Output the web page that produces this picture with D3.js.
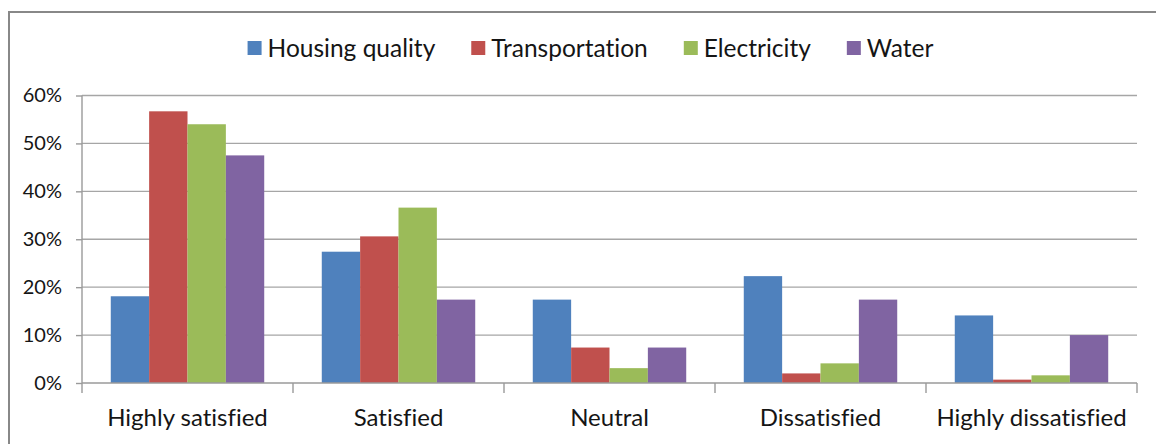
<!DOCTYPE html>
<html>
<head>
<meta charset="utf-8">
<script src="https://cdn.jsdelivr.net/npm/d3@7"></script>
<style>
  html, body { margin: 0; padding: 0; background: #fff; }
  svg { display: block; }
  text { font-family: Lato, "Open Sans", sans-serif; fill: #151515; font-variant-ligatures: none; }
</style>
</head>
<body>
<svg id="chart" width="1156" height="444"></svg>
<script>
// Satisfaction levels (x categories)
const categories = ["Highly satisfied", "Satisfied", "Neutral", "Dissatisfied", "Highly dissatisfied"];

// Series names, in legend order
const seriesNames = ["Housing quality", "Transportation", "Electricity", "Water"];

// Share of respondents (%) per category, one array per series
const housingQuality = [18.1, 27.4, 17.4, 22.3, 14.1];
const transportation = [56.7, 30.6, 7.4, 2.0, 0.7];
const electricity    = [54.0, 36.6, 3.1, 4.1, 1.6];
const water          = [47.5, 17.4, 7.4, 17.4, 10.0];

// Y axis tick values (%)
const yTicks = [0, 10, 20, 30, 40, 50, 60];

const seriesValues = [housingQuality, transportation, electricity, water];
const colors = ["#4F81BD", "#C0504D", "#9BBB59", "#8064A2"];

const svg = d3.select("#chart");
const W = 1156, H = 444;
const plot = { left: 82, right: 1137, top: 95.5, bottom: 383 };

// Chart area frame (top and left edges visible)
svg.append("path")
  .attr("d", `M9,${H} V12 H${W}`)
  .attr("fill", "none")
  .attr("stroke", "#888")
  .attr("stroke-width", 2);

const x = d3.scaleBand()
  .domain(categories)
  .range([plot.left, plot.right]);

// Bars within a category: gap of 1.5 bar widths split on both sides
const inner = d3.scaleBand()
  .domain(seriesNames)
  .range([0, x.bandwidth()])
  .paddingInner(0)
  .paddingOuter(0.75);

const y = d3.scaleLinear()
  .domain([0, 60])
  .range([plot.bottom, plot.top]);

const gridColor = "#a6a6a6";
const axisColor = "#9a9a9a";

// Horizontal gridlines
svg.append("g")
  .selectAll("line")
  .data(yTicks.filter(t => t > 0))
  .join("line")
  .attr("x1", plot.left)
  .attr("x2", plot.right)
  .attr("y1", d => y(d))
  .attr("y2", d => y(d))
  .attr("stroke", gridColor)
  .attr("stroke-width", 1.4);

// Bars
const groups = svg.append("g")
  .selectAll("g")
  .data(seriesNames)
  .join("g")
  .attr("fill", (d, i) => colors[i]);

groups.selectAll("rect")
  .data((s, si) => categories.map((c, ci) => ({ c, s, v: seriesValues[si][ci] })))
  .join("rect")
  .attr("x", d => x(d.c) + inner(d.s))
  .attr("width", inner.bandwidth())
  .attr("y", d => y(d.v))
  .attr("height", d => y(0) - y(d.v));

// Y axis
const yAxis = d3.axisLeft(y)
  .tickValues(yTicks)
  .tickSize(6)
  .tickPadding(14)
  .tickFormat(d => d + "%");

const gy = svg.append("g")
  .attr("transform", `translate(${plot.left},0)`)
  .call(yAxis);
gy.select(".domain").remove();
gy.selectAll(".tick line").attr("stroke", axisColor).attr("stroke-width", 1.4);
gy.selectAll(".tick text")
  .attr("font-size", 20)
  .attr("font-family", "Lato, sans-serif")
  .attr("fill", "#151515");

// Vertical axis line, extended down to the category tick length
svg.append("line")
  .attr("x1", plot.left).attr("x2", plot.left)
  .attr("y1", plot.top).attr("y2", plot.bottom + 10)
  .attr("stroke", axisColor).attr("stroke-width", 1.4);

// X axis baseline
svg.append("line")
  .attr("x1", plot.left).attr("x2", plot.right)
  .attr("y1", plot.bottom).attr("y2", plot.bottom)
  .attr("stroke", axisColor).attr("stroke-width", 1.4);

// Category boundary ticks
svg.append("g")
  .selectAll("line")
  .data(categories)
  .join("line")
  .attr("x1", d => x(d) + x.bandwidth()).attr("x2", d => x(d) + x.bandwidth())
  .attr("y1", plot.bottom).attr("y2", plot.bottom + 10)
  .attr("stroke", axisColor).attr("stroke-width", 1.4);

// Category labels
svg.append("g")
  .selectAll("text")
  .data(categories)
  .join("text")
  .attr("x", d => x(d) + x.bandwidth() / 2)
  .attr("y", 426)
  .attr("text-anchor", "middle")
  .attr("font-size", 24)
  .text(d => d);

// Legend
const legend = svg.append("g");
const items = legend.selectAll("g")
  .data(seriesNames)
  .join("g");
items.append("rect")
  .attr("width", 14).attr("height", 14)
  .attr("y", 41)
  .attr("fill", (d, i) => colors[i]);
items.append("text")
  .attr("x", 20)
  .attr("y", 48)
  .attr("dy", "0.35em")
  .attr("font-size", 24.5)
  .text(d => d);

const itemGap = 36;
let offset = 0;
const positions = [];
items.each(function () {
  const w = d3.select(this).select("text").node().getComputedTextLength();
  positions.push(offset);
  offset += 20 + w + itemGap;
});
const legendWidth = offset - itemGap;
const legendStart = 590.5 - legendWidth / 2;
items.attr("transform", (d, i) => `translate(${legendStart + positions[i]},0)`);
</script>
</body>
</html>
